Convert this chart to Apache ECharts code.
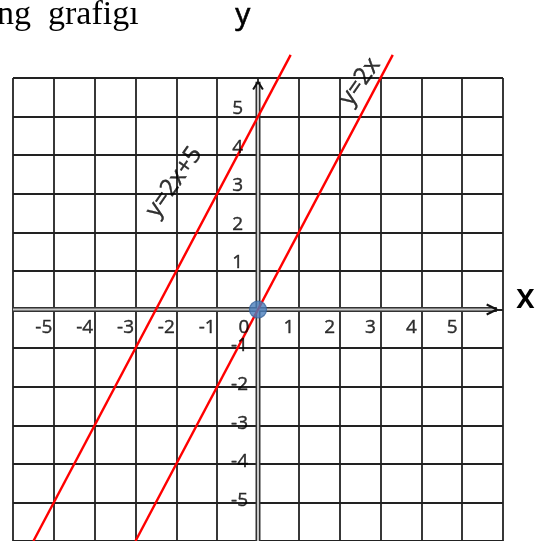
<!DOCTYPE html>
<html>
<head>
<meta charset="utf-8">
<script src="https://cdn.jsdelivr.net/npm/echarts@6/dist/echarts.min.js"></script>
<style>
  html, body { margin: 0; padding: 0; background: #fff; }
  #chart { width: 536px; height: 541px; }
</style>
</head>
<body>
<div id="chart"></div>
<script>
// Tick labels along the axes
const xTicks = [-5, -4, -3, -2, -1, 0, 1, 2, 3, 4, 5];
const yTicks = [5, 4, 3, 2, 1, -1, -2, -3, -4, -5];

// y = 2x + 5 (endpoints of the drawn segment)
const lineAX = [-5.5, 0.8];
const lineAY = [-6, 6.6];
// y = 2x
const lineBX = [-3, 3.3];
const lineBY = [-6, 6.6];

// Marked point on y = 2x
const pointX = [0];
const pointY = [0];

// Line captions: [x, y, text]
const captions = [
  [-2.05, 3.3, 'y=2x+5'],
  [2.5, 5.9, 'y=2x']
];

// Axis arrows (extent of each axis and its arrow tip)
const axisXStart = -6, axisXTip = 5.85;
const axisYStart = -6, axisYTip = 5.9;

const zip = (xs, ys) => xs.map((x, i) => [x, ys[i]]);

const chart = echarts.init(document.getElementById('chart'), null, { renderer: 'canvas' });

const gridLine = { show: true, lineStyle: { color: '#222', width: 1.8 } };
const tickFont = {
  fontFamily: 'Open Sans', fontSize: 19, color: '#000',
  textBorderColor: '#000', textBorderWidth: 0.4
};

const axisStroke = (data) => [
  { type: 'line', data, symbol: 'none', silent: true, z: 3,
    lineStyle: { color: '#333', width: 5 } },
  { type: 'line', data, symbol: 'none', silent: true, z: 4,
    lineStyle: { color: '#c8c8c8', width: 2 } }
];

const chevron = (pts) => ({
  type: 'line', data: pts, symbol: 'none', silent: true, z: 5,
  lineStyle: { color: '#111', width: 2 }
});

chart.setOption({
  animation: false,
  backgroundColor: '#fff',
  grid: { left: 13, right: 33, top: 78, bottom: 0 },
  xAxis: {
    type: 'value', min: -6, max: 6, interval: 1,
    axisLine: { show: false }, axisTick: { show: false }, axisLabel: { show: false },
    splitLine: gridLine
  },
  yAxis: {
    type: 'value', min: -6, max: 6, interval: 1,
    axisLine: { show: false }, axisTick: { show: false }, axisLabel: { show: false },
    splitLine: gridLine
  },
  graphic: [
    { type: 'text', left: -3, top: -2,
      style: { text: 'ng  grafigı', font: '34px "Liberation Serif"', fill: '#000' } },
    { type: 'text', left: 235, top: 0,
      style: { text: 'y', font: '30px "Open Sans"', fill: '#000', stroke: '#000', lineWidth: 0.6 } },
    { type: 'text', left: 516, top: 281,
      style: { text: 'x', font: '600 34px "Open Sans"', fill: '#000' } }
  ],
  series: [
    ...axisStroke([[axisXStart, 0], [axisXTip, 0]]),
    ...axisStroke([[0, axisYStart], [0, axisYTip]]),
    chevron([[axisXTip - 0.25, 0.13], [axisXTip, 0], [axisXTip - 0.25, -0.13]]),
    chevron([[-0.12, axisYTip - 0.2], [0, axisYTip], [0.12, axisYTip - 0.2]]),
    {
      type: 'line', name: 'y=2x+5', data: zip(lineAX, lineAY), symbol: 'none',
      clip: false, z: 6, lineStyle: { color: '#ff0000', width: 2.4 }
    },
    {
      type: 'line', name: 'y=2x', data: zip(lineBX, lineBY), symbol: 'none',
      clip: false, z: 6, lineStyle: { color: '#ff0000', width: 2.4 }
    },
    {
      type: 'scatter', data: zip(pointX, pointY), symbolSize: 17, z: 8,
      itemStyle: { color: '#4a7ebb', borderColor: '#3a659e', borderWidth: 1.2 }
    },
    {
      // x tick labels under the horizontal axis
      type: 'scatter', symbolSize: 0, silent: true, z: 7,
      data: xTicks.map(v => ({
        value: [v, 0],
        label: { offset: [v === 0 ? -14 : -10, 18] }
      })),
      label: {
        show: true, position: 'inside',
        formatter: p => String(p.value[0]), ...tickFont
      }
    },
    {
      // y tick labels left of the vertical axis
      type: 'scatter', symbolSize: 0, silent: true, z: 7,
      data: yTicks.map(v => ({
        value: [0, v],
        label: { offset: v > 0 ? [-15, -8] : [-10, -2] }
      })),
      label: {
        show: true, position: 'inside', align: 'right',
        formatter: p => String(p.value[1]), ...tickFont
      }
    },
    {
      // captions written along the two lines
      type: 'scatter', symbolSize: 0, silent: true, z: 7,
      data: captions.map(c => ({ value: [c[0], c[1]], name: c[2] })),
      label: {
        show: true, position: 'inside', rotate: 55,
        formatter: p => p.name,
        fontFamily: 'Open Sans', fontSize: 24, color: '#000',
        textBorderColor: '#000', textBorderWidth: 0.4
      }
    }
  ]
});
</script>
</body>
</html>
